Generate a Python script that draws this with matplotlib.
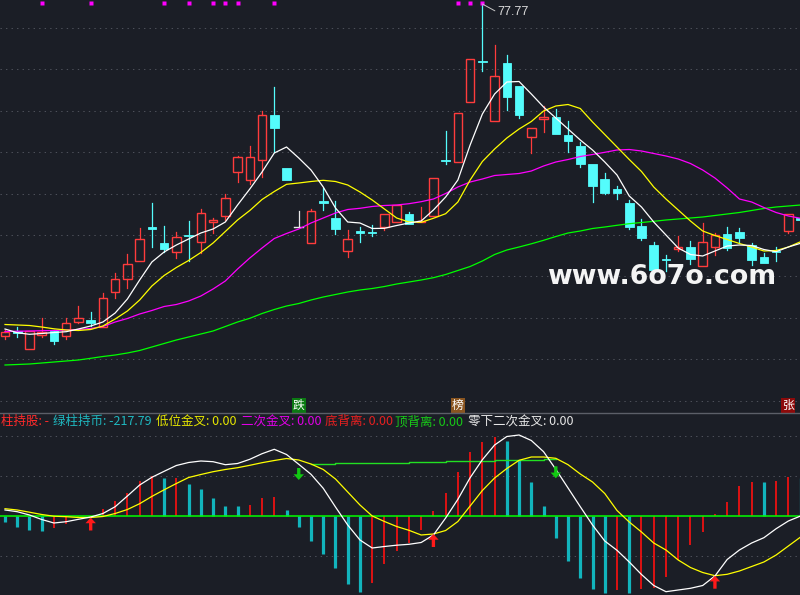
import numpy as np
import matplotlib
matplotlib.use("Agg")
import matplotlib.pyplot as plt
from matplotlib.patches import Rectangle

# ---- daily candles (price) ----
opens = [44.60, 45.10, 43.24, 44.67, 45.10, 44.60, 45.94, 46.17, 45.44, 48.94,
         50.24, 52.10, 55.50, 53.90, 52.94, 54.72, 54.00, 56.00, 56.60, 61.00,
         60.14, 62.14, 66.67, 61.37, 55.44, 53.84, 58.07, 56.34, 53.10, 55.07,
         55.00, 55.44, 55.97, 56.77, 55.97, 56.60, 62.19, 62.00, 67.94, 72.05,
         66.10, 71.87, 69.57, 64.44, 66.24, 66.47, 64.67, 63.60, 61.77, 60.27,
         59.27, 57.90, 55.57, 53.67, 52.29, 53.24, 53.44, 51.60, 53.50, 54.77,
         54.94, 53.67, 52.44, 53.05, 55.10, 56.37]
closes = [45.00, 44.90, 45.10, 45.00, 44.10, 45.84, 46.34, 45.90, 48.34, 50.24,
          51.77, 54.24, 55.24, 53.30, 54.44, 54.62, 56.84, 56.17, 58.34, 62.44,
          62.44, 66.64, 65.40, 60.20, 55.44, 57.07, 57.84, 55.27, 54.24, 54.84,
          54.84, 56.77, 57.67, 55.77, 56.07, 60.34, 62.09, 66.84, 72.24, 71.95,
          70.54, 68.50, 66.67, 65.34, 66.44, 64.80, 64.10, 61.77, 59.60, 58.90,
          58.90, 55.50, 54.34, 51.17, 52.19, 53.44, 52.24, 53.94, 54.67, 53.34,
          54.40, 52.17, 51.90, 52.95, 56.77, 56.17]
highs = [45.17, 45.50, 45.10, 46.34, 45.17, 46.40, 47.57, 46.97, 48.84, 50.90,
         52.74, 55.40, 57.90, 55.57, 55.00, 56.07, 57.27, 56.34, 58.77, 62.57,
         63.57, 67.07, 69.44, 61.37, 57.07, 57.27, 59.34, 58.07, 55.17, 55.50,
         55.64, 56.77, 57.67, 56.94, 57.47, 60.34, 65.07, 66.84, 72.24, 77.77,
         73.67, 72.67, 69.57, 65.40, 67.57, 67.27, 66.07, 63.94, 61.77, 60.84,
         59.57, 58.17, 56.24, 53.94, 52.67, 54.57, 54.07, 55.84, 54.84, 55.44,
         55.34, 53.84, 52.84, 53.44, 56.77, 56.47]
lows = [44.27, 44.50, 43.24, 44.50, 43.74, 44.27, 45.84, 45.57, 45.44, 48.34,
        49.40, 52.10, 53.50, 53.00, 52.40, 52.10, 52.90, 54.84, 56.17, 60.00,
        59.74, 60.50, 63.00, 60.20, 55.44, 53.84, 57.17, 54.74, 52.50, 54.00,
        54.60, 55.17, 55.97, 55.77, 55.97, 56.60, 61.74, 62.00, 67.94, 71.10,
        66.10, 67.17, 66.34, 62.84, 65.00, 64.80, 63.00, 61.50, 58.00, 58.74,
        58.24, 55.24, 54.17, 50.84, 51.10, 53.10, 51.77, 51.60, 52.67, 53.17,
        54.00, 51.67, 51.84, 52.10, 54.84, 56.07]

# ---- moving averages as shown ----
ma5 = [45.27, 44.90, 44.74, 44.82, 44.92, 45.00, 45.27, 45.57, 45.97, 46.87,
       48.27, 50.17, 51.97, 52.97, 53.67, 54.27, 54.87, 55.27, 55.97, 57.67,
       59.27, 60.97, 62.87, 63.47, 62.37, 61.17, 59.47, 57.37, 55.97, 55.87,
       55.32, 55.34, 55.62, 55.87, 56.07, 57.17, 58.47, 60.17, 63.67, 66.77,
       68.77, 69.97, 70.02, 68.77, 67.47, 66.37, 65.27, 64.17, 63.17, 61.97,
       60.67, 58.57, 57.47, 55.97, 54.67, 53.37, 52.72, 52.57, 53.07, 53.57,
       53.67, 53.62, 53.22, 53.00, 53.47, 53.84]
ma10 = [45.72, 45.67, 45.62, 45.47, 45.29, 45.17, 45.12, 45.22, 45.57, 46.27,
        47.07, 48.17, 49.57, 50.62, 51.42, 52.12, 52.92, 53.87, 55.02, 56.17,
        57.12, 58.22, 59.02, 59.74, 59.87, 60.02, 60.14, 60.02, 59.67, 58.97,
        58.17, 57.27, 56.37, 55.97, 55.94, 56.34, 56.80, 57.97, 60.17, 62.02,
        63.27, 64.37, 65.27, 66.02, 67.07, 67.57, 67.72, 67.32, 65.97, 64.72,
        63.47, 62.22, 61.02, 59.47, 58.27, 57.17, 56.07, 55.07, 54.62, 54.22,
        53.82, 53.47, 53.07, 53.12, 53.47, 54.00]
ma20 = [45.02, 45.05, 45.07, 45.10, 45.12, 45.17, 45.22, 45.32, 45.52, 45.97,
        46.32, 46.77, 47.12, 47.52, 47.72, 48.07, 48.57, 49.27, 50.07, 51.27,
        52.37, 53.37, 54.32, 54.82, 55.27, 55.87, 56.37, 56.87, 57.22, 57.34,
        57.52, 57.62, 57.67, 57.80, 58.00, 58.27, 58.82, 59.47, 59.97, 60.27,
        60.62, 60.72, 60.82, 61.07, 61.57, 61.97, 62.22, 62.52, 62.72, 62.94,
        63.17, 63.22, 63.07, 62.82, 62.57, 62.27, 61.82, 61.17, 60.37, 59.37,
        58.27, 57.97, 57.42, 56.92, 56.57, 56.34]
ma60 = [41.67, 41.72, 41.77, 41.87, 41.97, 42.07, 42.17, 42.34, 42.52, 42.67,
        42.87, 43.12, 43.47, 43.82, 44.17, 44.47, 44.77, 45.07, 45.52, 45.97,
        46.34, 46.82, 47.22, 47.57, 47.82, 48.17, 48.47, 48.72, 48.97, 49.17,
        49.32, 49.52, 49.77, 49.97, 50.17, 50.40, 50.72, 51.12, 51.52, 52.07,
        52.72, 53.17, 53.47, 53.79, 54.14, 54.52, 54.87, 55.07, 55.32, 55.47,
        55.64, 55.80, 55.92, 56.04, 56.17, 56.27, 56.37, 56.47, 56.62, 56.77,
        56.92, 57.12, 57.32, 57.47, 57.57, 57.67]

# ---- lower indicator ----
macd_hist = [-0.57, -1.07, -1.40, -1.50, -1.23, -0.80, -0.17, -0.10, 0.67, 1.50,
             2.33, 3.53, 4.00, 3.83, 3.85, 3.20, 2.70, 1.83, 1.00, 0.97,
             1.10, 1.83, 1.93, 0.60, -1.13, -2.47, -3.80, -5.17, -6.83, -7.57,
             -6.73, -4.83, -3.47, -2.73, -1.40, 0.50, 2.33, 4.43, 6.43, 7.43,
             7.93, 7.50, 5.60, 3.43, 1.00, -2.17, -4.47, -6.23, -7.33, -7.73,
             -7.40, -7.73, -7.33, -7.23, -6.07, -4.40, -2.90, -1.57, 0.20, 1.37,
             3.00, 3.40, 3.37, 3.50, 3.87, 3.85]
dif = [0.60, 0.43, 0.10, -0.35, -0.70, -0.57, -0.33, -0.10, 0.25, 0.93,
       2.00, 3.10, 3.87, 4.47, 5.05, 5.35, 5.50, 5.43, 5.13, 5.25,
       5.67, 6.23, 6.67, 6.15, 5.17, 4.17, 2.77, 0.90, -0.90, -2.40,
       -3.20, -3.05, -2.92, -2.83, -2.65, -1.90, -0.20, 1.67, 3.83, 5.63,
       7.10, 7.95, 8.10, 7.55, 6.43, 4.67, 2.80, 0.93, -0.90, -2.50,
       -3.43, -4.60, -5.85, -6.95, -7.57, -7.40, -7.23, -6.95, -6.00, -4.35,
       -3.40, -2.70, -2.17, -1.27, -0.50, 0.00]
dea = [0.73, 0.60, 0.38, 0.15, -0.02, -0.07, -0.15, -0.15, -0.05, 0.25,
       0.65, 1.23, 1.96, 2.62, 3.25, 3.85, 4.15, 4.43, 4.65, 4.83,
       5.07, 5.33, 5.55, 5.75, 5.60, 5.20, 4.65, 3.70, 2.40, 1.10,
       0.00, -0.55, -1.05, -1.43, -1.90, -1.80, -1.45, -0.55, 1.00, 2.55,
       3.80, 4.75, 5.57, 5.90, 5.90, 5.77, 5.13, 4.20, 3.40, 2.25,
       0.55, -0.60, -1.60, -2.70, -3.40, -4.40, -5.15, -5.65, -5.97, -5.83,
       -5.50, -5.05, -4.60, -3.90, -3.00, -2.10]
top_line_idx = list(range(25, 46))
top_line = [5.17, 5.17, 5.33, 5.33, 5.33, 5.33, 5.33, 5.33, 5.40, 5.40, 5.40,
            5.50, 5.50, 5.50, 5.50, 5.57, 5.57, 5.57, 5.57, 5.70, 5.70]

buy_idx = [7, 35, 58]
sell_idx = [24, 45]
flag_idx = [3, 7, 13, 15, 17, 18, 19, 22, 37, 38, 39]
peak_idx = 39
badges = [(24, "跌", "#0b7a12"), (37, "榜", "#8a5520"), (64, "张", "#8c0a0a")]
legend_items = [("柱持股: -", "#ff2a2a"), ("绿柱持币: -217.79", "#1fb8c0"),
                ("低位金叉: 0.00", "#e6e600"), ("二次金叉: 0.00", "#e000e6"),
                ("底背离: 0.00", "#e62020"), ("顶背离: 0.00", "#18c818"),
                ("零下二次金叉: 0.00", "#e6e6e6")]

BG = "#1b1e26"
RED = "#ff3c3c"
CYAN = "#54fcfc"
GRID = "#4e515a"

plt.rcParams["font.family"] = ["Noto Sans CJK SC", "DejaVu Sans"]

fig = plt.figure(figsize=(8, 5.95), dpi=100, facecolor=BG)
ax = fig.add_axes([0, 182 / 595, 1, 413 / 595])
axm = fig.add_axes([0, 0, 1, 182 / 595])
for a in (ax, axm):
    a.set_axis_off()
    a.set_xlim(-0.4085, 64.95)

ax.set_ylim(36.87, 78.17)
axm.set_ylim(-7.9, 10.3)

# dotted grid
for g in 75.37 - 4.14 * np.arange(10):
    ax.axhline(g, color=GRID, lw=0.75, ls=(0, (1.3, 4)), zorder=0)
for g in (-4, 4, 8):
    axm.axhline(g, color=GRID, lw=0.75, ls=(0, (1.3, 4)), zorder=0)

# candles
n = len(opens)
x = np.arange(n)
bw = 0.7
for i in range(n):
    o, c, h, l = opens[i], closes[i], highs[i], lows[i]
    top, bot = max(o, c), min(o, c)
    if c > o:
        col = RED
        ax.add_patch(Rectangle((i - bw / 2, bot), bw, top - bot, fill=False,
                               ec=col, lw=1.0, zorder=2))
    elif c < o:
        col = CYAN
        ax.add_patch(Rectangle((i - bw / 2, bot), bw, top - bot, fc=col,
                               ec=col, lw=0.6, zorder=2))
    else:
        col = "#e8e8e8"
        ax.plot([i - bw / 2, i + bw / 2], [o, o], color=col, lw=1.0, zorder=2)
    if h > top:
        ax.plot([i, i], [top, h], color=col, lw=0.9, zorder=2)
    if l < bot:
        ax.plot([i, i], [l, bot], color=col, lw=0.9, zorder=2)

ax.plot(x, ma60, color="#00ff00", lw=0.9, zorder=3)
ax.plot(x, ma20, color="#ff00ff", lw=0.9, zorder=3)
ax.plot(x, ma10, color="#ffff00", lw=0.9, zorder=3)
ax.plot(x, ma5, color="#ffffff", lw=0.9, zorder=3)

# top signal squares
xt = ax.get_xaxis_transform()
ax.plot(flag_idx, [0.992] * len(flag_idx), ls="none", marker="s", ms=3,
        color="#ff00ff", mec="none", transform=xt, clip_on=False)

# peak label
ax.annotate(f"{highs[peak_idx]:.2f}", xy=(peak_idx, highs[peak_idx]),
            xytext=(11, -6), textcoords="offset points", ha="left", va="center",
            fontsize=9, color="#dcdcdc", family="Liberation Sans",
            arrowprops=dict(arrowstyle="-", color="#c8c8c8", lw=0.7,
                            shrinkA=0, shrinkB=0, relpos=(0, 0.5)))

# badges above separator
for i, s, c in badges:
    ax.text(i, 0.018, s, transform=xt, ha="center", va="center", fontsize=8.5,
            color="white", bbox=dict(boxstyle="square,pad=0.1", fc=c, ec="none"))

# separator
fig.add_artist(plt.Line2D([0, 1], [182 / 595, 182 / 595], color="#5c5f68", lw=1.0))

# watermark
fig.text(662 / 800, 1 - 277 / 595, "www.6o7o.com", ha="center", va="center",
         fontsize=19.3, fontweight="bold", color="#f4f4f4", family="DejaVu Sans")

# lower panel
hist = np.array(macd_hist)
rising = np.r_[False, np.diff(hist) > 0]
for i in range(n):
    if rising[i]:
        axm.vlines(i, 0, hist[i], color="#ff1010", lw=1.2, zorder=2)
    else:
        axm.vlines(i, 0, hist[i], color="#12b4bc", lw=2.3, zorder=2)
axm.axhline(0, color="#00ff00", lw=1.1, zorder=3)
axm.step(top_line_idx, top_line, where="post", color="#22e022", lw=1.0, zorder=3)
axm.plot(x, dea, color="#ffff00", lw=0.9, zorder=4)
axm.plot(x, dif, color="#ffffff", lw=0.9, zorder=4)

arrow_style = "simple,head_length=0.55,head_width=1.0,tail_width=0.32"
for i in buy_idx:
    axm.annotate("", xy=(i, dea[i]), xytext=(i, dea[i] - 1.3),
                 arrowprops=dict(arrowstyle=arrow_style, color="#ff1a1a", lw=0,
                                 mutation_scale=7.5, shrinkA=0, shrinkB=0), zorder=5)
for i in sell_idx:
    axm.annotate("", xy=(i, dea[i] - 2.0), xytext=(i, dea[i] - 0.8),
                 arrowprops=dict(arrowstyle=arrow_style, color="#12c812", lw=0,
                                 mutation_scale=7.5, shrinkA=0, shrinkB=0), zorder=5)

# indicator legend
xpos = [1, 52.7, 155.7, 240.7, 325, 395, 468]
for (s, c), px in zip(legend_items, xpos):
    fig.text(px / 800, 1 - 421.7 / 595, s, color=c, fontsize=9, ha="left", va="center")

fig.savefig("out.png", dpi=100, facecolor=BG)
